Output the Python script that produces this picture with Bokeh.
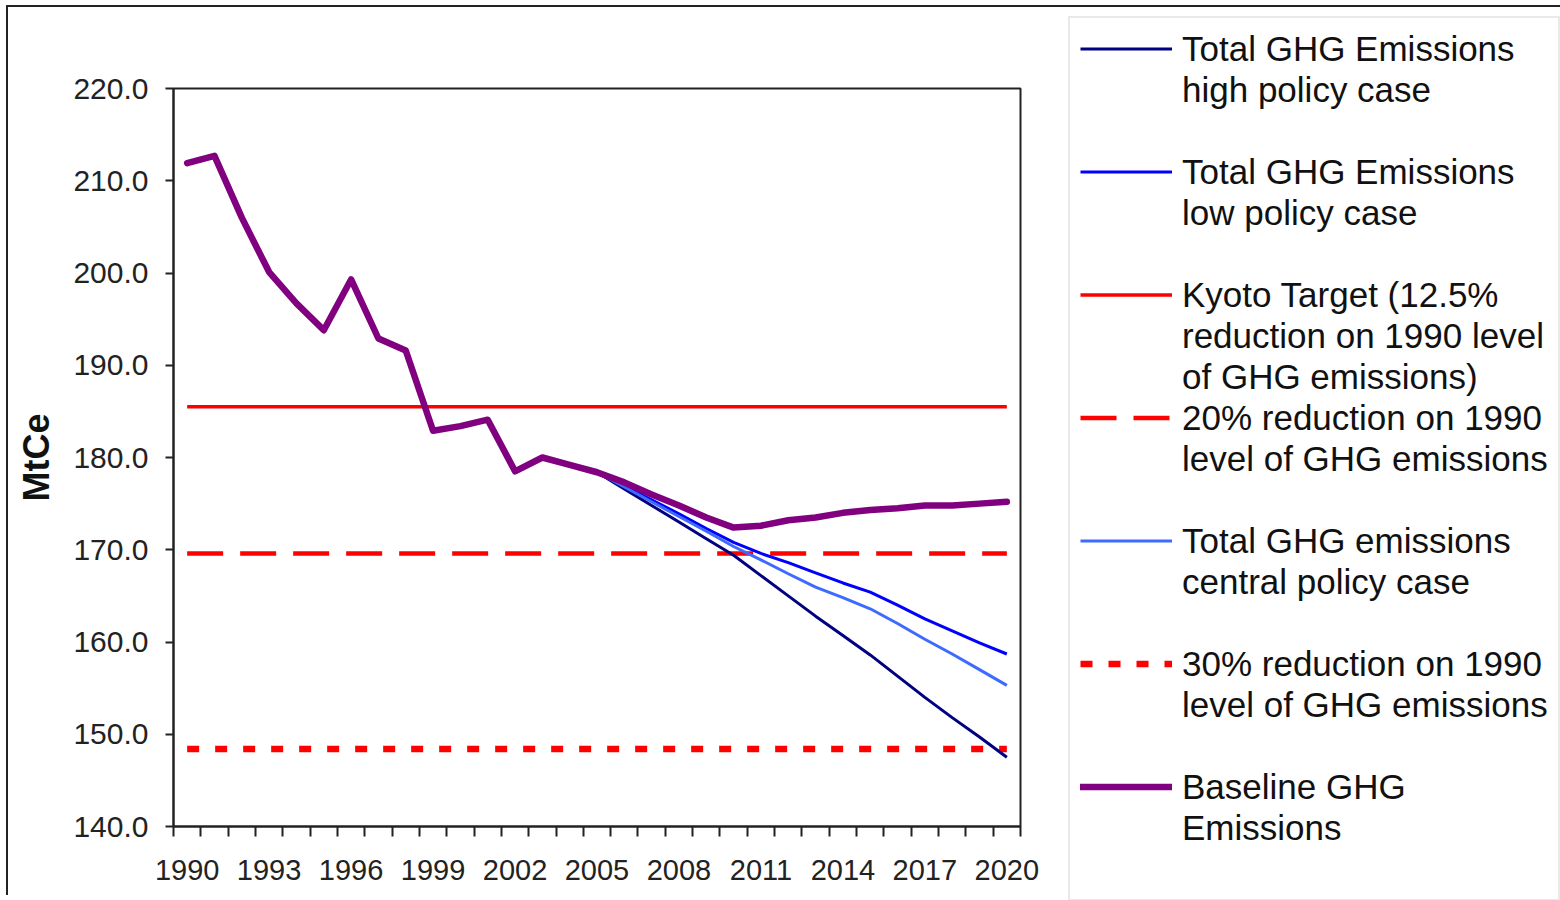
from bokeh.plotting import figure
from bokeh.models import (Range1d, FixedTicker, NumeralTickFormatter, Legend, LegendItem,
                          GlobalInlineStyleSheet)
from bokeh.embed import file_html
from bokeh.resources import INLINE

# ---------------- data ----------------
years = list(range(1990, 2021))
baseline = [211.9, 212.7, 206.0, 200.1, 196.7, 193.8, 199.3, 192.9, 191.6, 182.9,
            183.4, 184.1, 178.5, 180.0, 179.2, 178.4, 177.3, 176.0, 174.8, 173.5,
            172.4, 172.6, 173.2, 173.5, 174.0, 174.3, 174.5, 174.8, 174.8, 175.0, 175.2]
proj_years = list(range(2005, 2021))
high_policy = [178.4, 176.6, 174.8, 173.0, 171.2, 169.4, 167.2, 165.0, 162.8, 160.7,
               158.6, 156.3, 154.0, 151.8, 149.7, 147.5]
low_policy = [178.4, 176.9, 175.4, 173.9, 172.3, 170.8, 169.6, 168.6, 167.5, 166.4,
              165.4, 164.0, 162.5, 161.2, 159.9, 158.7]
central_policy = [178.4, 176.8, 175.2, 173.6, 172.0, 170.35, 168.9, 167.4, 165.95, 164.8,
                  163.6, 162.0, 160.3, 158.7, 157.0, 155.3]
kyoto_target = 185.5
reduction_20 = 169.6
reduction_30 = 148.4
x_tick_years = list(range(1990, 2021, 3))
y_ticks = list(range(140, 221, 10))

FONT = "Liberation Sans"

# left border 165 + frame 847 + right panel 920 (the side legend panel needs ~900);
# the part beyond the window is simply not shown.
p = figure(width=1932, height=890, output_backend="svg", toolbar_location=None,
           x_range=Range1d(years[0] - 0.5, years[-1] + 0.5), y_range=Range1d(140, 220),
           min_border_left=165, min_border_right=920, min_border_top=81, min_border_bottom=71)
p.margin = (7, 0, 0, 8)
p.styles = {"box-shadow": "-2px -2px 0 0 #222222"}
p.stylesheets = [GlobalInlineStyleSheet(css="html, body { overflow: hidden; }")]
p.grid.visible = False
p.outline_line_color = "#222222"
p.outline_line_width = 2
p.background_fill_color = "white"
p.border_fill_color = "white"

span_x = [years[0], years[-1]]
r_kyoto = p.line(span_x, [kyoto_target, kyoto_target], line_color="#FF0000", line_width=3.5)
r_20 = p.line(span_x, [reduction_20, reduction_20], line_color="#FF0000", line_width=4.5,
              line_dash="36 17")
r_30 = p.line(span_x, [reduction_30, reduction_30], line_color="#FF0000", line_width=6.5,
              line_dash="12 16")
r_high = p.line(proj_years, high_policy, line_color="#000080", line_width=3)
r_low = p.line(proj_years, low_policy, line_color="#0000FF", line_width=3)
r_central = p.line(proj_years, central_policy, line_color="#3D6BFF", line_width=3)
r_base = p.line(years, baseline, line_color="#800080", line_width=6.5,
                line_join="round", line_cap="round")
ghost = p.line(years, baseline, line_alpha=0)

# ---------------- axes ----------------
xa = p.xaxis[0]
xa.ticker = FixedTicker(ticks=x_tick_years, minor_ticks=[y - 0.5 for y in years] + [years[-1] + 0.5])
xa.major_tick_line_color = None
xa.major_tick_out = 10
xa.major_tick_in = 0
xa.minor_tick_out = 10
xa.minor_tick_in = 0
xa.minor_tick_line_color = "#222222"
xa.minor_tick_line_width = 2
xa.axis_line_color = "#222222"
xa.axis_line_width = 2
xa.major_label_text_font = FONT
xa.major_label_text_font_size = "29px"
xa.major_label_text_color = "#222222"
xa.major_label_standoff = 23

ya = p.yaxis[0]
ya.ticker = FixedTicker(ticks=y_ticks, minor_ticks=[])
ya.formatter = NumeralTickFormatter(format="0.0")
ya.major_tick_out = 8
ya.major_tick_in = 0
ya.major_tick_line_width = 2
ya.major_tick_line_color = "#222222"
ya.minor_tick_line_color = None
ya.axis_line_color = "#222222"
ya.axis_line_width = 2
ya.major_label_text_font = FONT
ya.major_label_text_font_size = "30px"
ya.major_label_text_color = "#222222"
ya.major_label_standoff = 17
ya.axis_label = "MtCe"
ya.axis_label_text_font = FONT
ya.axis_label_text_font_size = "36px"
ya.axis_label_text_font_style = "bold"
ya.axis_label_text_color = "#111111"
ya.axis_label_standoff = 13

# ---------------- legend (one row per text line) ----------------
entries = [
    (r_high, ["Total GHG Emissions", "high policy case", " "]),
    (r_low, ["Total GHG Emissions", "low policy case", " "]),
    (r_kyoto, ["Kyoto Target (12.5%", "reduction on 1990 level", "of GHG emissions)"]),
    (r_20, ["20% reduction on 1990", "level of GHG emissions", " "]),
    (r_central, ["Total GHG emissions", "central policy case", " "]),
    (r_30, ["30% reduction on 1990", "level of GHG emissions", " "]),
    (r_base, ["Baseline GHG", "Emissions", " "]),
]
items = []
for rend, lines in entries:
    for i, txt in enumerate(lines):
        items.append(LegendItem(label=txt, renderers=[rend if i == 0 else ghost]))

legend = Legend(items=items, location=(48, -75), padding=10, spacing=0, margin=0,
                ncols=1, label_height=41, glyph_height=41, glyph_width=92, label_standoff=10,
                label_text_font=FONT, label_text_font_size="35px", label_text_color="#111111",
                border_line_color="#d4d4d4", border_line_width=2,
                background_fill_color="white", background_fill_alpha=1.0)
p.add_layout(legend, "right")

open("out.html", "w").write(file_html(p, INLINE))
